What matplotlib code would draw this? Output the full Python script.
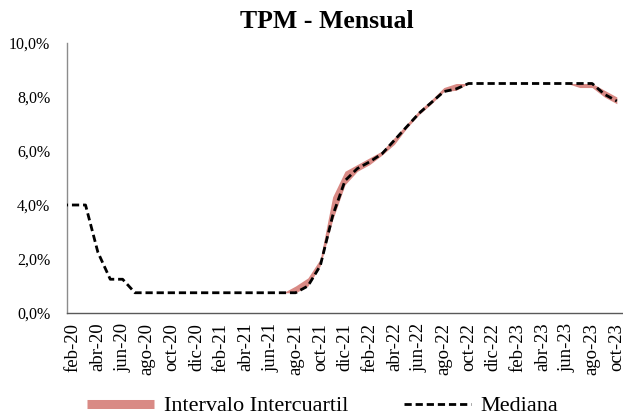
import matplotlib
matplotlib.use("Agg")
import matplotlib.pyplot as plt
from matplotlib.lines import Line2D
import numpy as np

plt.rcParams['font.family'] = ['Liberation Serif', 'DejaVu Serif']

# Monthly data, jan-20 .. oct-23 (jan-20 only visible as the start of the line at the axis)
months = ["ene-20", "feb-20", "mar-20", "abr-20", "may-20", "jun-20", "jul-20", "ago-20",
          "sep-20", "oct-20", "nov-20", "dic-20", "ene-21", "feb-21", "mar-21", "abr-21",
          "may-21", "jun-21", "jul-21", "ago-21", "sep-21", "oct-21", "nov-21", "dic-21",
          "ene-22", "feb-22", "mar-22", "abr-22", "may-22", "jun-22", "jul-22", "ago-22",
          "sep-22", "oct-22", "nov-22", "dic-22", "ene-23", "feb-23", "mar-23", "abr-23",
          "may-23", "jun-23", "jul-23", "ago-23", "sep-23", "oct-23"]

mediana = [4.0, 4.0, 4.0, 2.25, 1.25, 1.25, 0.75, 0.75,
           0.75, 0.75, 0.75, 0.75, 0.75, 0.75, 0.75, 0.75,
           0.75, 0.75, 0.75, 0.75, 1.0, 1.75, 3.6, 4.9,
           5.35, 5.6, 5.9, 6.4, 6.9, 7.4, 7.8, 8.2,
           8.3, 8.5, 8.5, 8.5, 8.5, 8.5, 8.5, 8.5,
           8.5, 8.5, 8.5, 8.5, 8.1, 7.85]

q_inf = [4.0, 4.0, 4.0, 2.25, 1.25, 1.25, 0.75, 0.75,
         0.75, 0.75, 0.75, 0.75, 0.75, 0.75, 0.75, 0.75,
         0.75, 0.75, 0.75, 0.75, 1.0, 1.75, 3.45, 4.75,
         5.25, 5.5, 5.85, 6.25, 6.85, 7.35, 7.75, 8.2,
         8.25, 8.5, 8.5, 8.5, 8.5, 8.5, 8.5, 8.5,
         8.5, 8.5, 8.35, 8.35, 8.0, 7.75]

q_sup = [4.0, 4.0, 4.0, 2.25, 1.25, 1.25, 0.75, 0.75,
         0.75, 0.75, 0.75, 0.75, 0.75, 0.75, 0.75, 0.75,
         0.75, 0.75, 0.75, 1.0, 1.3, 2.0, 4.3, 5.25,
         5.5, 5.75, 6.0, 6.5, 7.0, 7.5, 7.9, 8.35,
         8.5, 8.5, 8.5, 8.5, 8.5, 8.5, 8.5, 8.5,
         8.5, 8.5, 8.5, 8.5, 8.25, 8.0]

y_ticks = [0, 2, 4, 6, 8, 10]
y_ticklabels = ["0,0%", "2,0%", "4,0%", "6,0%", "8,0%", "10,0%"]

band_color = '#D98A85'

fig = plt.figure(figsize=(6.23, 4.17), dpi=100)
ax = fig.add_axes([67/623, 1 - 313/417, 556/623, 270/417])

x = np.arange(len(months))
ax.fill_between(x, q_inf, q_sup, color=band_color, lw=0, zorder=2)
ax.plot(x, mediana, color='black', lw=2.0, linestyle=(0, (2.6, 1.4)), zorder=3)

ax.set_xlim(0.5, len(months) - 0.5)
ax.set_ylim(0, 10)
ax.set_yticks(y_ticks)
ax.set_yticklabels(y_ticklabels, fontsize=11.5)
ax.set_xticks(x[1::2])
ax.set_xticklabels(months[1::2], rotation=90, fontsize=13.5)
ax.tick_params(axis='x', length=0, pad=7)
ax.tick_params(axis='y', length=0, pad=12)

for s in ['top', 'right']:
    ax.spines[s].set_visible(False)
ax.spines['left'].set_color('#8c8c8c')
ax.spines['bottom'].set_color('#595959')
ax.spines['left'].set_linewidth(1.0)
ax.spines['bottom'].set_linewidth(1.0)

fig.text(327/623, 1 - 21/417, "TPM - Mensual", ha='center', va='center',
         fontsize=18.5, fontweight='bold')

handles = [Line2D([], [], color=band_color, lw=6.5, solid_capstyle='butt'),
           Line2D([], [], color='black', lw=2.0, linestyle=(0, (2.6, 1.4)))]
fig.legend(handles, ["Intervalo Intercuartil", "Mediana"], loc='center',
           bbox_to_anchor=(323/623, 1 - 406/417), ncol=2, frameon=False,
           fontsize=16, handlelength=3.0, handletextpad=0.45, columnspacing=2.5,
           borderpad=0, borderaxespad=0)

fig.savefig("out.png", dpi=100)
